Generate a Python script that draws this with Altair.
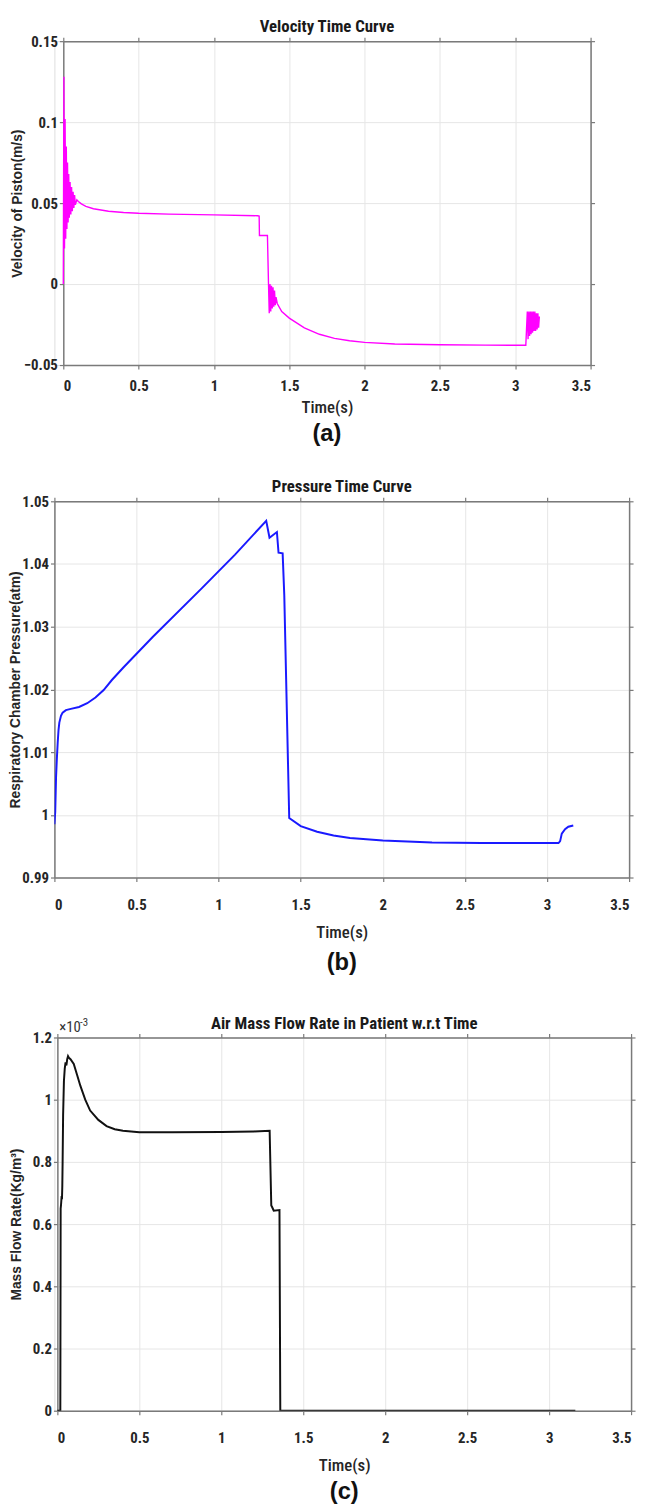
import altair as alt
import pandas as pd

# ---------------- data ----------------
# (a) Velocity of piston (m/s)
vel_t = [0, 0.004, 0.008, 0.012, 0.016, 0.020, 0.024, 0.028, 0.032, 0.036, 0.040,
         0.045, 0.050, 0.055, 0.060, 0.065, 0.070, 0.075, 0.080, 0.090, 0.100,
         0.12, 0.15, 0.20, 0.30, 0.40, 0.50, 0.70, 1.00, 1.29, 1.30, 1.302, 1.355,
         1.362, 1.367, 1.372, 1.377, 1.382, 1.387, 1.392, 1.397, 1.402, 1.407, 1.412,
         1.42, 1.45, 1.50, 1.60, 1.70, 1.80, 1.90, 2.00, 2.20, 2.50, 2.80, 3.07,
         3.08, 3.085, 3.09, 3.095, 3.10, 3.105, 3.11, 3.115, 3.12, 3.125, 3.13,
         3.135, 3.14, 3.145, 3.15, 3.155, 3.16]
vel_v = [0, 0.128, 0.022, 0.102, 0.028, 0.085, 0.034, 0.075, 0.038, 0.068, 0.041,
         0.063, 0.043, 0.060, 0.045, 0.057, 0.047, 0.055, 0.049, 0.052, 0.051,
         0.0495, 0.048, 0.0465, 0.045, 0.0442, 0.0437, 0.0432, 0.0427, 0.0422, 0.0420, 0.0300, 0.0300,
         0.0005, -0.018, 0.0000, -0.017, -0.001, -0.015, -0.002, -0.014, -0.004, -0.013, -0.008,
         -0.012, -0.017, -0.021, -0.027, -0.031, -0.0335, -0.035, -0.036, -0.037, -0.0375, -0.0377, -0.0378,
         -0.017, -0.034, -0.017, -0.032, -0.017, -0.031, -0.017, -0.030, -0.017, -0.029, -0.017,
         -0.029, -0.018, -0.028, -0.018, -0.027, -0.020]

# (b) Respiratory chamber pressure (atm)
pr_t = [0, 0.005, 0.01, 0.015, 0.02, 0.025, 0.03, 0.04, 0.05, 0.07, 0.1, 0.15, 0.2,
        0.25, 0.3, 0.35, 0.42, 0.6, 0.9, 1.1, 1.29, 1.31, 1.355, 1.365, 1.39, 1.40,
        1.43, 1.5, 1.6, 1.7, 1.8, 2.0, 2.3, 2.6, 3.07, 3.08, 3.09, 3.11, 3.13, 3.16]
pr_p = [0.9985, 1.0005, 1.006, 1.009, 1.0115, 1.0135, 1.0147, 1.0158, 1.0163, 1.0167,
        1.0169, 1.0172, 1.0178, 1.0187, 1.0199, 1.0215, 1.0235, 1.0284, 1.0362, 1.0415,
        1.0469, 1.0442, 1.0451, 1.0418, 1.0417, 1.035, 0.9995, 0.9982, 0.9973, 0.9967,
        0.9963, 0.9959, 0.9956, 0.9955, 0.9955, 0.9958, 0.9970, 0.9977, 0.9981, 0.9983]

# (c) Mass flow rate (x1e-3)
mf_t = [0, 0.018, 0.02, 0.022, 0.026, 0.028, 0.03, 0.032, 0.035, 0.04, 0.045, 0.05,
        0.055, 0.06, 0.065, 0.07, 0.08, 0.1, 0.12, 0.14, 0.17, 0.2, 0.25, 0.3, 0.35,
        0.4, 0.5, 0.7, 1.0, 1.2, 1.295, 1.305, 1.31, 1.32, 1.355, 1.36, 1.5, 2.0, 3.16]
mf_m = [0, 0, 0.65, 0.66, 0.69, 0.68, 0.72, 0.80, 0.95, 1.06, 1.10, 1.12,
        1.11, 1.13, 1.14, 1.135, 1.13, 1.115, 1.08, 1.045, 1.0, 0.965, 0.935, 0.915, 0.905,
        0.90, 0.895, 0.895, 0.896, 0.898, 0.90, 0.66, 0.655, 0.643, 0.645, 0.0, 0.0, 0.0, 0.0]

x_ticks = [0, 0.5, 1, 1.5, 2, 2.5, 3, 3.5]
vel_ticks = [-0.05, 0, 0.05, 0.1, 0.15]
pr_ticks = [0.99, 1.0, 1.01, 1.02, 1.03, 1.04, 1.05]
mf_ticks = [0, 0.2, 0.4, 0.6, 0.8, 1.0, 1.2]

NARROW = "Liberation Sans Narrow, Roboto Condensed, Arial Narrow, Liberation Sans, sans-serif"
ARIAL = "Liberation Sans, Arial, sans-serif"
AXC = "#7a7a7a"
GRID = "#e6e6e6"
INK = "#262626"


def panel(t, y, color, lw, ytitle, yticks, ydomain, title, caption, d, W, h,
          title_x, lab_pad, tit_pad, cap_dy, spacer_dy=None, exp_label=None):
    """d: left shift of the plot inside the shared column, W: right edge."""
    df = pd.DataFrame({"t": t, "y": y, "i": list(range(len(t)))})
    xs = alt.Scale(domain=[0, 3.5], range=[d, W], nice=False, zero=False)
    ys = alt.Scale(domain=ydomain, nice=False, zero=False)
    common = dict(domainColor=AXC, domainWidth=1.5, tickColor=AXC, tickSize=4,
                  tickWidth=1.2, labelFont=NARROW, labelFontSize=15,
                  labelFontWeight="bold", labelColor=INK)
    cx = (d + W) / 2
    base = alt.Chart(df)
    line = base.mark_line(color=color, strokeWidth=lw, clip=True).encode(
        x=alt.X("t:Q", scale=xs,
                axis=alt.Axis(values=x_ticks, format=".6~g", title="Time(s)",
                              titleFont=NARROW, titleFontSize=17,
                              titleFontWeight=500, titleColor=INK,
                              titlePadding=tit_pad, labelPadding=lab_pad,
                              titleX=cx, gridColor=GRID, **common)),
        y=alt.Y("y:Q", scale=ys,
                axis=alt.Axis(values=yticks, format=".6~g", title=ytitle,
                              titleFont=ARIAL, titleFontSize=14,
                              titleFontWeight="bold", titleColor=INK,
                              titleX=title_x, labelPadding=2, gridColor=GRID,
                              offset=-d, **common)),
        order="i:Q",
    )
    frame = base.mark_line(opacity=0).encode(
        x=alt.X("t:Q", scale=xs,
                axis=alt.Axis(orient="top", values=x_ticks, labels=False,
                              grid=False, title=None, **common)),
        y=alt.Y("y:Q", scale=ys,
                axis=alt.Axis(orient="right", values=yticks, labels=False,
                              grid=False, title=None, **common)),
    )
    ttl = alt.Chart(pd.DataFrame({"c": [title]})).mark_text(
        font=NARROW, fontSize=17, fontWeight="bold", color="#1a1a1a",
        baseline="bottom", align="center"
    ).encode(text="c:N", x=alt.value(cx), y=alt.value(-5))
    cap = alt.Chart(pd.DataFrame({"c": [caption]})).mark_text(
        font=ARIAL, fontSize=24, fontWeight="bold", color="#111"
    ).encode(text="c:N", x=alt.value(cx), y=alt.value(h + cap_dy))
    layers = [line, frame, ttl, cap]
    if spacer_dy is not None:
        sp = alt.Chart(pd.DataFrame({"s": [0]})).mark_rule(
            color="white", strokeWidth=1
        ).encode(x=alt.value(cx), x2=alt.value(cx + 1),
                 y=alt.value(h + spacer_dy))
        layers.append(sp)
    if exp_label:
        base_txt, sup_txt = exp_label
        ex = alt.Chart(pd.DataFrame({"c": [base_txt]})).mark_text(
            font=NARROW, fontSize=15, align="left", baseline="bottom", color="#333"
        ).encode(text="c:N", x=alt.value(d + 2), y=alt.value(-3))
        sup = alt.Chart(pd.DataFrame({"c": [sup_txt]})).mark_text(
            font=NARROW, fontSize=11, align="left", baseline="bottom", color="#333"
        ).encode(text="c:N", x=alt.value(d + 23), y=alt.value(-10))
        layers += [ex, sup]
    ch = alt.layer(*layers).resolve_axis(x="independent", y="independent").properties(
        width=W, height=h)
    return ch


a = panel(vel_t, vel_v, "#ff00ff", 1.4, "Velocity of Piston(m/s)", vel_ticks,
          [-0.05, 0.15], "Velocity Time Curve", "(a)", 9, 543, 328, -39,
          10, 6, 70, spacer_dy=113)
b = panel(pr_t, pr_p, "#1a1aff", 2.0, "Respiratory Chamber Pressure(atm)", pr_ticks,
          [0.99, 1.05], "Pressure Time Curve", "(b)", 0, 582, 381, -32,
          16, 13, 87, spacer_dy=137)
c = panel(mf_t, mf_m, "#111111", 2.0, "Mass Flow Rate(Kg/m³)", mf_ticks,
          [0, 1.2], "Air Mass Flow Rate in Patient w.r.t Time", "(c)", 3, 584, 378, -34,
          16, 13, 82, exp_label=("×10", "-3"))

chart = alt.vconcat(a, b, c, spacing=0).properties(
    padding={"left": 0, "top": 0, "right": 0, "bottom": 0}
).configure_view(stroke=None).configure(background="white")

chart.save("out.html", embed_options={"renderer": "svg", "actions": False})
